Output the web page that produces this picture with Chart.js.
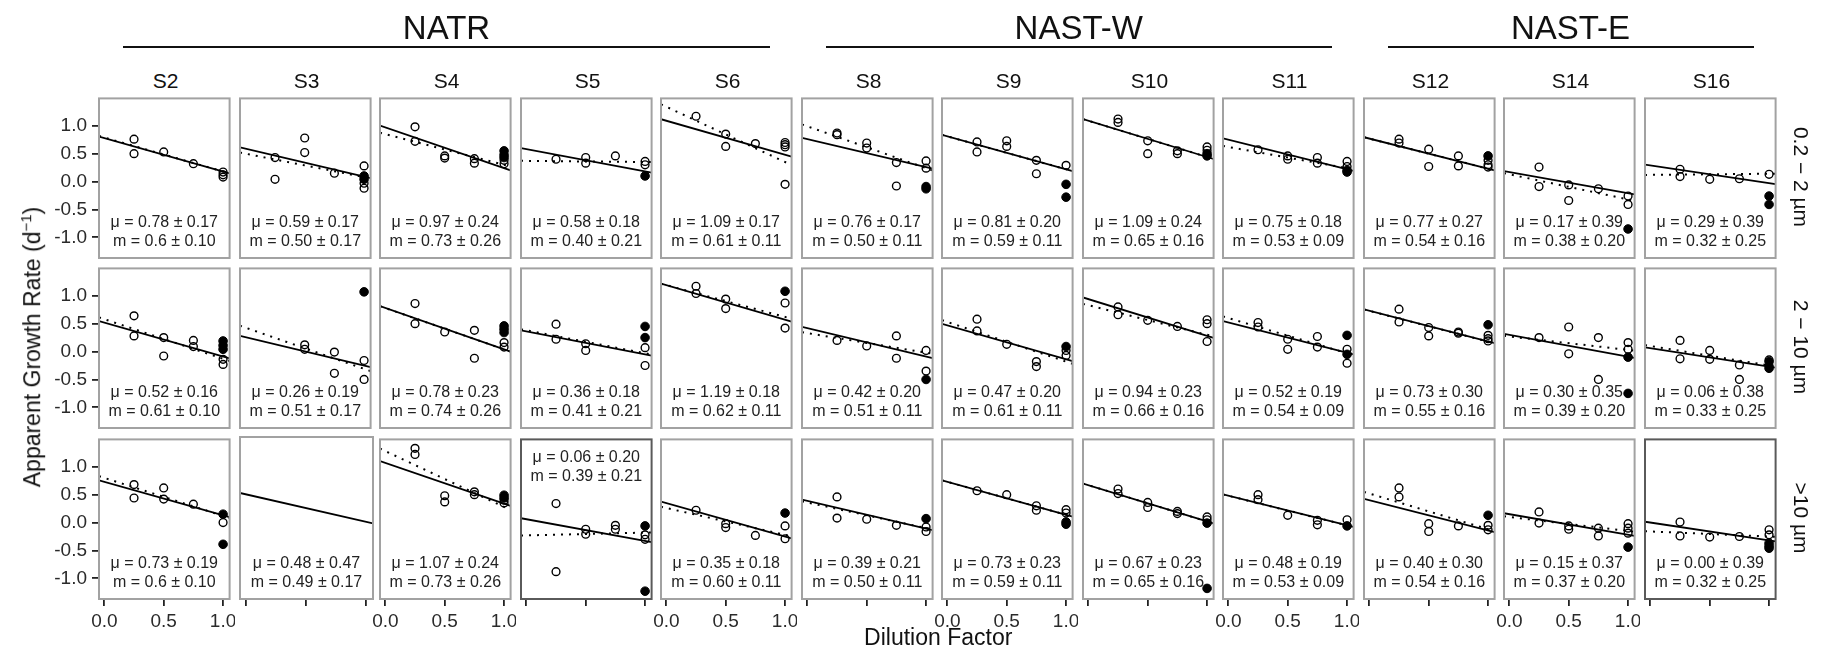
<!DOCTYPE html>
<html><head><meta charset="utf-8">
<script src="https://cdn.jsdelivr.net/npm/chart.js@4.4.0/dist/chart.umd.min.js"></script>
<style>
html,body{margin:0;padding:0;background:#fff;}
#wrap{position:relative;width:1825px;height:656px;overflow:hidden;font-family:"Liberation Sans",Arial,sans-serif;color:#111;}
#wrap canvas{position:absolute;}
.lbl{position:absolute;white-space:nowrap;line-height:1;}
.hline{position:absolute;height:2px;background:#111;}
</style></head><body><div id="wrap"></div>
<script>
// ---------------- categories / labels ----------------
const stations = ['S2','S3','S4','S5','S6','S8','S9','S10','S11','S12','S14','S16'];
const regionNames = ['NATR','NAST-W','NAST-E'];
const regionFirst = [0,5,9];
const regionLast = [4,8,11];
const sizeClasses = ['0.2 \u2212 2 \u00b5m','2 \u2212 10 \u00b5m','>10 \u00b5m'];
const xTicks = [0, 0.5, 1];
const yTicks = [-1, -0.5, 0, 0.5, 1];
const xTitle = 'Dilution Factor';
const yTitle = 'Apparent Growth Rate (d<sup>\u22121</sup>)';

// ---------------- 0.2-2 um ----------------
const open02 = [
 [[.25,.76],[.25,.5],[.5,.53],[.75,.32],[1,.17],[1,.12],[1,.08]],
 [[.25,.43],[.25,.04],[.5,.78],[.5,.52],[.75,.15],[1,.28],[1,-.03],[1,-.12]],
 [[.25,.98],[.25,.72],[.5,.46],[.5,.42],[.75,.41],[.75,.33],[1,.38],[1,.32]],
 [[.25,.4],[.5,.43],[.5,.33],[.75,.46],[1,.36],[1,.3]],
 [[.25,1.17],[.5,.85],[.5,.63],[.75,.68],[1,.7],[1,.66],[1,.62],[1,-.05]],
 [[.25,.87],[.25,.84],[.5,.69],[.5,.6],[.75,.34],[.75,-.08],[1,.37],[1,.24]],
 [[.25,.71],[.25,.53],[.5,.73],[.5,.63],[.75,.38],[.75,.14],[1,.29]],
 [[.25,1.12],[.25,1.06],[.5,.73],[.5,.5],[.75,.55],[.75,.5],[1,.62],[1,.56]],
 [[.25,.57],[.5,.46],[.5,.4],[.75,.43],[.75,.33],[1,.36],[1,.27]],
 [[.25,.76],[.25,.69],[.5,.58],[.5,.27],[.75,.46],[.75,.28],[1,.38],[1,.3],[1,.26]],
 [[.25,.26],[.25,-.09],[.5,-.06],[.5,-.34],[.75,-.13],[1,-.26],[1,-.41]],
 [[.25,.22],[.25,.09],[.5,.04],[.75,.05],[1,.13]]
];
const filled02 = [
 [], [[1,.1],[1,.04]], [[1,.55],[1,.48],[1,.43]], [[1,.1]], [],
 [[1,-.09],[1,-.13]], [[1,-.05],[1,-.28]], [[1,.5],[1,.46]], [[1,.2],[1,.17]],
 [[1,.46]], [[1,-.85]], [[1,-.26],[1,-.41]]
];
const mu02 = ['0.78 \u00b1 0.17','0.59 \u00b1 0.17','0.97 \u00b1 0.24','0.58 \u00b1 0.18','1.09 \u00b1 0.17','0.76 \u00b1 0.17','0.81 \u00b1 0.20','1.09 \u00b1 0.24','0.75 \u00b1 0.18','0.77 \u00b1 0.27','0.17 \u00b1 0.39','0.29 \u00b1 0.39'];
const m02 = ['0.6 \u00b1 0.10','0.50 \u00b1 0.17','0.73 \u00b1 0.26','0.40 \u00b1 0.21','0.61 \u00b1 0.11','0.50 \u00b1 0.11','0.59 \u00b1 0.11','0.65 \u00b1 0.16','0.53 \u00b1 0.09','0.54 \u00b1 0.16','0.38 \u00b1 0.20','0.32 \u00b1 0.25'];
// dotted fit: value at x=0 and at x=1
const dot02 = [[.79,.18],[.5,.08],[.85,.3],[.37,.35],[1.34,.35],[.99,.24],[.81,.22],[1.09,.44],[.62,.24],[.77,.23],[.13,-.32],[.12,.14]];

// ---------------- 2-10 um ----------------
const open210 = [
 [[.25,.64],[.25,.28],[.5,.25],[.5,-.08],[.75,.2],[.75,.09],[1,-.14],[1,-.23]],
 [[.5,.12],[.5,.04],[.75,-.01],[.75,-.39],[1,-.16],[1,-.5]],
 [[.25,.86],[.25,.5],[.5,.35],[.75,.38],[.75,-.12],[1,.16],[1,.08]],
 [[.25,.49],[.25,.22],[.5,.14],[.5,.02],[1,.07],[1,-.25]],
 [[.25,1.17],[.25,1.04],[.5,.94],[.5,.77],[1,.87],[1,.42]],
 [[.25,.2],[.5,.1],[.75,.28],[.75,-.12],[1,.02],[1,-.35]],
 [[.25,.58],[.25,.37],[.5,.13],[.75,-.18],[.75,-.27],[1,.02],[1,-.07]],
 [[.25,.8],[.25,.66],[.5,.56],[.75,.45],[1,.57],[1,.5],[1,.18]],
 [[.25,.52],[.25,.44],[.5,.22],[.5,.04],[.75,.27],[.75,.08],[1,.04],[1,-.21]],
 [[.25,.76],[.25,.53],[.5,.43],[.5,.28],[.75,.35],[.75,.33],[1,.29],[1,.23],[1,.19]],
 [[.25,.25],[.5,.44],[.5,-.04],[.75,.25],[.75,-.5],[1,.16],[1,.04]],
 [[.25,.2],[.25,-.13],[.5,.02],[.5,-.14],[.75,-.24],[.75,-.5],[1,-.15],[1,-.26]]
];
const filled210 = [
 [[1,.19],[1,.11],[1,.04]], [[1,1.07]], [[1,.46],[1,.4],[1,.34]], [[1,.45],[1,.25]], [[1,1.08]],
 [[1,-.5]], [[1,.09]], [], [[1,.29],[1,-.05]], [[1,.48]], [[1,-.1],[1,-.75]], [[1,-.18],[1,-.3]]
];
const mu210 = ['0.52 \u00b1 0.16','0.26 \u00b1 0.19','0.78 \u00b1 0.23','0.36 \u00b1 0.18','1.19 \u00b1 0.18','0.42 \u00b1 0.20','0.47 \u00b1 0.20','0.94 \u00b1 0.23','0.52 \u00b1 0.19','0.73 \u00b1 0.30','0.30 \u00b1 0.35','0.06 \u00b1 0.38'];
const m210 = ['0.61 \u00b1 0.10','0.51 \u00b1 0.17','0.74 \u00b1 0.26','0.41 \u00b1 0.21','0.62 \u00b1 0.11','0.51 \u00b1 0.11','0.61 \u00b1 0.11','0.66 \u00b1 0.16','0.54 \u00b1 0.09','0.55 \u00b1 0.16','0.39 \u00b1 0.20','0.33 \u00b1 0.25'];
const dot210 = [[.58,-.13],[.43,-.31],[.78,.04],[.38,-.03],[1.19,.62],[.33,-.02],[.53,-.18],[.83,.3],[.6,-.03],[.73,.18],[.27,.03],[.1,-.25]];

// ---------------- >10 um ----------------
const open10 = [
 [[.25,.68],[.25,.44],[.5,.62],[.5,.42],[.75,.33],[1,0]],
 [],
 [[.25,1.33],[.25,1.22],[.5,.48],[.5,.37],[.75,.55],[.75,.5],[1,.4],[1,.35]],
 [[.25,.34],[.25,-.88],[.5,-.12],[.5,-.21],[.75,-.05],[.75,-.12],[1,-.22],[1,-.3]],
 [[.25,.22],[.5,-.02],[.5,-.09],[.75,-.23],[1,-.06],[1,-.29]],
 [[.25,.46],[.25,.08],[.5,.06],[.75,-.05],[1,-.08],[1,-.16]],
 [[.25,.57],[.5,.5],[.75,.3],[.75,.22],[1,.23],[1,.17]],
 [[.25,.6],[.25,.52],[.5,.36],[.5,.27],[.75,.2],[.75,.16],[1,.1],[1,.05]],
 [[.25,.5],[.25,.41],[.5,.13],[.75,.04],[.75,-.04],[1,.05]],
 [[.25,.62],[.25,.46],[.5,-.02],[.5,-.16],[.75,-.06],[1,-.05],[1,-.13]],
 [[.25,.19],[.25,-.01],[.5,-.06],[.5,-.12],[.75,-.1],[.75,-.24],[1,-.02],[1,-.1],[1,-.19]],
 [[.25,.01],[.25,-.24],[.5,-.26],[.75,-.25],[1,-.13],[1,-.22]]
];
const filled10 = [
 [[1,.15],[1,-.39]], [], [[1,.49],[1,.44]], [[1,-.06],[1,-1.23]], [[1,.17]],
 [[1,.07]], [[1,.01],[1,-.03]], [[1,-.01],[1,-1.18]], [[1,-.06]], [[1,.13]], [[1,-.44]], [[1,-.37],[1,-.42],[1,-.46]]
];
const mu10 = ['0.73 \u00b1 0.19','0.48 \u00b1 0.47','1.07 \u00b1 0.24','0.06 \u00b1 0.20','0.35 \u00b1 0.18','0.39 \u00b1 0.21','0.73 \u00b1 0.23','0.67 \u00b1 0.23','0.48 \u00b1 0.19','0.40 \u00b1 0.30','0.15 \u00b1 0.37','0.00 \u00b1 0.39'];
const m10 = ['0.6 \u00b1 0.10','0.49 \u00b1 0.17','0.73 \u00b1 0.26','0.39 \u00b1 0.21','0.60 \u00b1 0.11','0.50 \u00b1 0.11','0.59 \u00b1 0.11','0.65 \u00b1 0.16','0.53 \u00b1 0.09','0.54 \u00b1 0.16','0.37 \u00b1 0.20','0.32 \u00b1 0.25'];
const dot10 = [[.8,.12],null,[1.28,.28],[-.23,-.18],[.26,-.22],[.36,-.1],[.73,.14],[.67,.02],[.48,-.05],[.52,-.12],[.1,-.15],[-.16,-.25]];

// ---------------- layout / style (not data) ----------------
const FONT = '"Liberation Sans", Arial, Helvetica, sans-serif';
const X0 = 99, PX = 140.5, PW = 133, Y0 = 95.7, PY = 170.5, PH = 162;
const L = 62, B = 46, T = 3, R = 3;
const X_MIN = -0.045, X_MAX = 1.055, Y_MIN = -1.37, Y_MAX = 1.49;
const textTopPanels = {'2-3': true};
const darkBorderPanels = {'2-3': true, '2-11': true};

const rowsData = [
  {open: open02, filled: filled02, mu: mu02, m: m02, dot: dot02},
  {open: open210, filled: filled210, mu: mu210, m: m210, dot: dot210},
  {open: open10, filled: filled10, mu: mu10, m: m10, dot: dot10}
];

const wrap = document.getElementById('wrap');
function addLabel(html, x, y, size, rot, extra) {
  const d = document.createElement('div');
  d.className = 'lbl';
  d.innerHTML = html;
  d.style.left = x + 'px'; d.style.top = y + 'px';
  d.style.fontSize = size + 'px';
  d.style.transform = 'translate(-50%,-50%)' + (rot ? ' rotate(' + rot + 'deg)' : '');
  if (extra) Object.assign(d.style, extra);
  wrap.appendChild(d);
  return d;
}

const panelPlugin = {
  id: 'panel',
  afterDatasetsDraw(chart, args, o) {
    const {ctx, chartArea: a} = chart;
    ctx.save();
    ctx.strokeStyle = o.borderColor; ctx.lineWidth = 2;
    ctx.strokeRect(a.left, a.top, a.right - a.left, a.bottom - a.top);
    ctx.fillStyle = '#222';
    ctx.font = '16px ' + FONT;
    ctx.textAlign = 'center'; ctx.textBaseline = 'middle';
    const cx = (a.left + a.right) / 2;
    const y1 = o.top ? a.top + 18 : a.bottom - 35;
    ctx.fillText(o.line1, cx, y1);
    ctx.fillText(o.line2, cx, y1 + 19);
    ctx.restore();
  }
};

const toPts = arr => arr.map(p => ({x: p[0], y: p[1]}));

for (let r = 0; r < 3; r++) {
  const rd = rowsData[r];
  for (let c = 0; c < 12; c++) {
    const left = Math.round(X0 + c * PX), top = Math.round(Y0 + r * PY);
    const cv = document.createElement('canvas');
    cv.width = L + PW + R; cv.height = T + PH + B;
    cv.style.left = (left - L) + 'px'; cv.style.top = (top - T) + 'px';
    wrap.appendChild(cv);

    const muVal = parseFloat(rd.mu[c]);
    const mVal = parseFloat(rd.m[c]);
    const solid = [{x: X_MIN, y: muVal - mVal * X_MIN}, {x: X_MAX, y: muVal - mVal * X_MAX}];
    const datasets = [
      {data: toPts(rd.filled[c]), pointRadius: 4.3, pointBorderWidth: 1, backgroundColor: '#000', borderColor: '#000', pointStyle: 'circle'},
      {data: toPts(rd.open[c]), pointRadius: 3.9, pointBorderWidth: 1.4, backgroundColor: 'rgba(0,0,0,0)', borderColor: '#000', pointStyle: 'circle'},
      {type: 'line', data: solid, borderColor: '#000', borderWidth: 1.8, pointRadius: 0, tension: 0, fill: false}
    ];
    const dd = rd.dot[c];
    if (dd) {
      const f = x => dd[0] + (dd[1] - dd[0]) * x;
      datasets.push({type: 'line', data: [{x: X_MIN, y: f(X_MIN)}, {x: X_MAX, y: f(X_MAX)}],
        borderColor: '#000', borderWidth: 2, borderDash: [2, 6], pointRadius: 0, tension: 0, fill: false});
    }
    const key = r + '-' + c;
    const showXTicks = r === 2;
    const showXLabels = r === 2 && c % 2 === 0;
    const showY = c === 0;
    new Chart(cv, {
      type: 'scatter',
      data: {datasets},
      options: {
        animation: false, responsive: false, devicePixelRatio: 1,
        events: [],
        layout: {padding: {top: T, right: R, left: 0, bottom: 0}},
        plugins: {
          legend: {display: false}, tooltip: {enabled: false},
          panel: {borderColor: darkBorderPanels[key] ? '#5a5a5a' : '#a2a2a2',
                  top: !!textTopPanels[key],
                  line1: '\u03bc = ' + rd.mu[c], line2: 'm = ' + rd.m[c]}
        },
        scales: {
          x: {
            type: 'linear', position: 'bottom', min: X_MIN, max: X_MAX,
            afterBuildTicks: s => { s.ticks = xTicks.map(v => ({value: v})); },
            afterFit: s => { s.height = B; s.paddingLeft = 0; s.paddingRight = 0; },
            grid: {display: showXTicks, drawOnChartArea: false, drawTicks: true, tickLength: 7, color: '#222', lineWidth: 1.8},
            border: {display: false},
            ticks: {display: showXLabels, autoSkip: false, maxRotation: 0, padding: 4, color: '#2a2a2a',
                    font: {family: FONT, size: 19}, callback: v => Number(v).toFixed(1)}
          },
          y: {
            type: 'linear', position: 'left', min: Y_MIN, max: Y_MAX,
            afterBuildTicks: s => { s.ticks = yTicks.map(v => ({value: v})); },
            afterFit: s => { s.width = L; s.paddingTop = 0; s.paddingBottom = 0; },
            grid: {display: showY, drawOnChartArea: false, drawTicks: true, tickLength: 7, color: '#222', lineWidth: 1.8},
            border: {display: false},
            ticks: {display: showY, autoSkip: false, padding: 5, color: '#2a2a2a',
                    font: {family: FONT, size: 19}, callback: v => Number(v).toFixed(1)}
          }
        }
      },
      plugins: [panelPlugin]
    });

    if (r === 0) addLabel(stations[c], left + PW / 2, 80, 21);
  }
  // strip label on the right
  addLabel(sizeClasses[r], 1801, Math.round(Y0 + r * PY) + PH / 2, 21, 90);
}

// region headers
for (let i = 0; i < regionNames.length; i++) {
  const x1 = X0 + regionFirst[i] * PX + 24;
  const x2 = X0 + regionLast[i] * PX + PW - 24;
  const ln = document.createElement('div');
  ln.className = 'hline';
  ln.style.left = x1 + 'px'; ln.style.width = (x2 - x1) + 'px'; ln.style.top = '46px';
  wrap.appendChild(ln);
  addLabel(regionNames[i], (x1 + x2) / 2, 27, 33);
}

// axis titles
addLabel(xTitle, (X0 + 11 * PX + PW + X0) / 2, 637, 23);
const yt = addLabel(yTitle, 31, Math.round(Y0 + PY) + PH / 2, 23, -90);
yt.querySelector('sup').style.fontSize = '15px';
</script>
</body></html>
